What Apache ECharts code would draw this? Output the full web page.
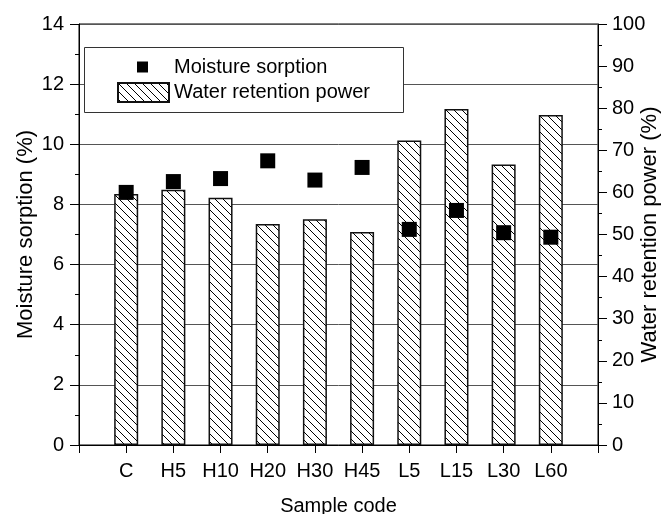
<!DOCTYPE html>
<html>
<head>
<meta charset="utf-8">
<script src="https://cdn.jsdelivr.net/npm/echarts@6/dist/echarts.min.js"></script>
<style>
html,body{margin:0;padding:0;background:#fff;}
#chart{width:667px;height:514px;}
</style>
</head>
<body>
<div id="chart"></div>
<script>
// ---- data ----
var categories = ['C', 'H5', 'H10', 'H20', 'H30', 'H45', 'L5', 'L15', 'L30', 'L60'];
var moistureSorption = [8.40, 8.76, 8.86, 9.45, 8.81, 9.23, 7.17, 7.80, 7.06, 6.91];
var waterRetention = [59.6, 60.6, 58.7, 52.5, 53.6, 50.6, 72.3, 79.8, 66.6, 78.4];
var leftTicks = [0, 2, 4, 6, 8, 10, 12, 14];
var rightTicks = [0, 10, 20, 30, 40, 50, 60, 70, 80, 90, 100];

// hatch pattern (backslash lines)
function makeHatch() {
  var s = 8;
  var c = document.createElement('canvas');
  c.width = s; c.height = s;
  var g = c.getContext('2d');
  g.fillStyle = '#fff';
  g.fillRect(0, 0, s, s);
  g.strokeStyle = '#000';
  g.lineWidth = 1;
  [-s, 0, s].forEach(function (o) {
    g.beginPath();
    g.moveTo(o, 0);
    g.lineTo(o + s, s);
    g.stroke();
  });
  return c;
}
var hatch = { image: makeHatch(), repeat: 'repeat' };

var FONT = "'Liberation Sans', Arial, sans-serif";
var chart = echarts.init(document.getElementById('chart'), null, { renderer: 'canvas' });

var barData = categories.map(function (c, i) { return [i + 1, waterRetention[i]]; });
var scatterData = categories.map(function (c, i) { return [i + 1, moistureSorption[i]]; });

chart.setOption({
  animation: false,
  backgroundColor: '#fff',
  textStyle: { fontFamily: FONT, color: '#000' },
  grid: {
    left: 79, right: 69, top: 24, bottom: 69,
    containLabel: false, outerBoundsMode: 'none',
    show: true, borderColor: '#000', borderWidth: 1, backgroundColor: 'transparent'
  },
  graphic: [{
    type: 'rect', z: 3, silent: true,
    shape: { x: 84.5, y: 47.5, width: 319, height: 65 },
    style: { fill: '#fff', stroke: '#333', lineWidth: 1 }
  }],
  legend: [{
    data: [{ name: 'Moisture sorption', icon: 'rect' }],
    left: 137, top: 57, padding: 0, itemWidth: 11, itemHeight: 11,
    selectedMode: false,
    textStyle: { fontFamily: FONT, fontSize: 20, color: '#000', padding: [0, 0, 0, 21] }
  }, {
    data: [{ name: 'Water retention power', icon: 'rect' }],
    left: 117, top: 82, padding: 0, itemWidth: 51, itemHeight: 19,
    selectedMode: false,
    textStyle: { fontFamily: FONT, fontSize: 20, color: '#000' }
  }],
  xAxis: {
    type: 'value', min: 0, max: 11, interval: 1,
    name: 'Sample code', nameLocation: 'middle', nameGap: 51, nameMoveOverlap: false,
    nameTextStyle: { fontFamily: FONT, fontSize: 20, color: '#000' },
    axisLine: { show: true, lineStyle: { color: '#000', width: 1 } },
    axisTick: { show: true, inside: false, length: 8, lineStyle: { color: '#000' } },
    axisLabel: {
      fontFamily: FONT, fontSize: 20, color: '#000', margin: 16,
      showMinLabel: true, showMaxLabel: true,
      formatter: function (v) { return categories[v - 1] || ''; }
    },
    splitLine: { show: false }
  },
  yAxis: [{
    type: 'value', min: 0, max: 14, interval: 2, position: 'left',
    name: 'Moisture sorption (%)', nameLocation: 'middle', nameGap: 42, nameRotate: 90,
    nameMoveOverlap: false,
    nameTextStyle: { fontFamily: FONT, fontSize: 22, color: '#000' },
    axisLine: { show: true, lineStyle: { color: '#000', width: 1 } },
    axisTick: { show: true, inside: false, length: 9, lineStyle: { color: '#000' } },
    minorTick: { show: true, splitNumber: 2, length: 4, lineStyle: { color: '#000' } },
    axisLabel: { fontFamily: FONT, fontSize: 20, color: '#000', margin: 15 },
    splitLine: { show: true, lineStyle: { color: '#555', width: 1 } }
  }, {
    type: 'value', min: 0, max: 100, interval: 10, position: 'right',
    name: 'Water retention power (%)', nameLocation: 'middle', nameGap: 41, nameRotate: 90,
    nameMoveOverlap: false,
    nameTextStyle: { fontFamily: FONT, fontSize: 22, color: '#000' },
    axisLine: { show: true, lineStyle: { color: '#000', width: 1 } },
    axisTick: { show: true, inside: false, length: 9, lineStyle: { color: '#000' } },
    minorTick: { show: true, splitNumber: 2, length: 4, lineStyle: { color: '#000' } },
    axisLabel: { fontFamily: FONT, fontSize: 20, color: '#000', margin: 14 },
    splitLine: { show: false }
  }],
  series: [{
    name: 'Water retention power', type: 'bar', yAxisIndex: 1, barWidth: 24,
    data: barData, z: 2,
    itemStyle: { color: hatch, borderColor: '#111', borderWidth: 1.5 }
  }, {
    name: 'Moisture sorption', type: 'scatter', yAxisIndex: 0,
    symbol: 'rect', symbolSize: 15, data: scatterData, z: 5,
    itemStyle: { color: '#000', opacity: 1 }
  }]
});
</script>
</body>
</html>
